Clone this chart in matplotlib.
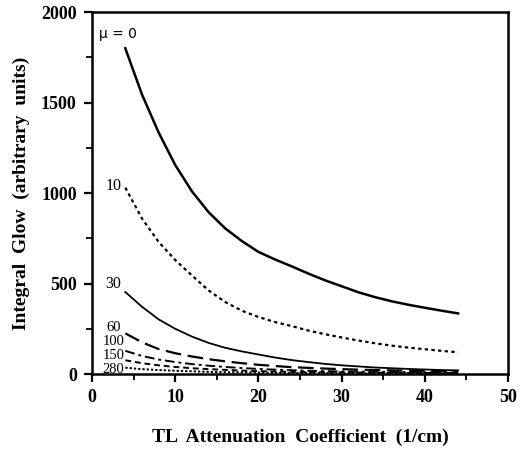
import numpy as np
import matplotlib
matplotlib.use("Agg")
import matplotlib.pyplot as plt
from matplotlib.ticker import MultipleLocator

# Attenuation coefficient sample points (1/cm)
atten = [4, 6, 8, 10, 12, 14, 16, 18, 20, 22, 24, 26, 28, 30, 32, 34, 36, 38, 40, 42, 44]

# Integral glow for each mu
glow_mu0 = [1800, 1545, 1335, 1155, 1010, 895, 805, 735, 675, 633, 595, 555,
            518, 485, 452, 425, 402, 383, 366, 350, 335]
glow_mu10 = [1030, 860, 730, 630, 545, 462, 398, 350, 315, 287, 265, 240,
             220, 202, 185, 170, 157, 146, 137, 128, 120]
glow_mu30 = [453, 372, 302, 250, 207, 172, 145, 125, 108, 91, 77, 66,
             56, 48, 42, 36, 32, 28, 25, 22, 20]
glow_mu60 = [225, 175, 138, 115, 97, 82, 70, 60, 51, 44, 38, 34,
             30, 27, 24, 22, 20, 18, 17, 16, 15]
glow_mu100 = [128, 100, 80, 66, 55, 46, 39, 33, 28, 24, 21, 18,
              16, 14, 13, 12, 11, 10, 9, 8, 8]
glow_mu150 = [76, 60, 48, 39, 32, 27, 23, 19, 16, 14, 12, 11,
              10, 9, 8, 7, 7, 6, 6, 5, 5]
glow_mu280 = [35, 27, 22, 18, 15, 12, 10, 9, 8, 7, 6, 5,
              5, 4, 4, 3, 3, 3, 3, 2, 2]

curve_labels = ["10", "30", "60", "100", "150", "280"]
label_y = [1040, 500, 255, 178, 101, 26]
label_size = [11.5, 11.5, 10.5, 10.5, 10.5, 10.5]

serif = ["Liberation Serif", "DejaVu Serif"]

fig = plt.figure(figsize=(5.2, 4.49), dpi=100)
ax = fig.add_axes([0.177, 0.167, 0.8, 0.806])

ax.plot(atten, glow_mu0, color="black", lw=1.8, ls="-")
ax.plot(atten, glow_mu10, color="black", lw=1.6, ls=(0, (1.5, 1.5)))
ax.plot(atten, glow_mu30, color="black", lw=1.3, ls="-")
ax.plot(atten, glow_mu60, color="black", lw=1.6, ls=(0, (7, 3)))
ax.plot(atten, glow_mu100, color="black", lw=1.4, ls=(0, (5, 2, 1.5, 2)))
ax.plot(atten, glow_mu150, color="black", lw=1.4, ls=(0, (3, 2)))
ax.plot(atten, glow_mu280, color="black", lw=1.4, ls=(0, (1.2, 1)))

# Curve labels
ax.text(3.1, 1880, "\u03bc = 0", fontsize=10, family="DejaVu Sans",
        ha="center", va="center")
for lab, yy, fs in zip(curve_labels, label_y, label_size):
    ax.text(2.6, yy, lab, fontsize=fs, family=serif, ha="center", va="center")

ax.set_xlim(0, 50)
ax.set_ylim(0, 2000)
ax.xaxis.set_major_locator(MultipleLocator(10))
ax.xaxis.set_minor_locator(MultipleLocator(5))
ax.yaxis.set_major_locator(MultipleLocator(500))
ax.yaxis.set_minor_locator(MultipleLocator(250))
ax.tick_params(which="major", direction="out", length=6, width=1.6,
               top=False, right=False, pad=5)
ax.tick_params(which="minor", direction="out", length=4, width=1.3,
               top=False, right=False)
for spine in ax.spines.values():
    spine.set_linewidth(1.8)

for lab in ax.get_xticklabels() + ax.get_yticklabels():
    lab.set_fontfamily(serif)
    lab.set_fontweight("bold")
    lab.set_fontsize(13)

ax.set_xlabel("TL  Attenuation  Coefficient  (1/cm)", fontsize=14,
              fontweight="bold", family=serif, labelpad=16)
ax.set_ylabel("Integral  Glow  (arbitrary  units)", fontsize=14,
              fontweight="bold", family=serif, labelpad=8)

fig.savefig("out.png", dpi=100)
